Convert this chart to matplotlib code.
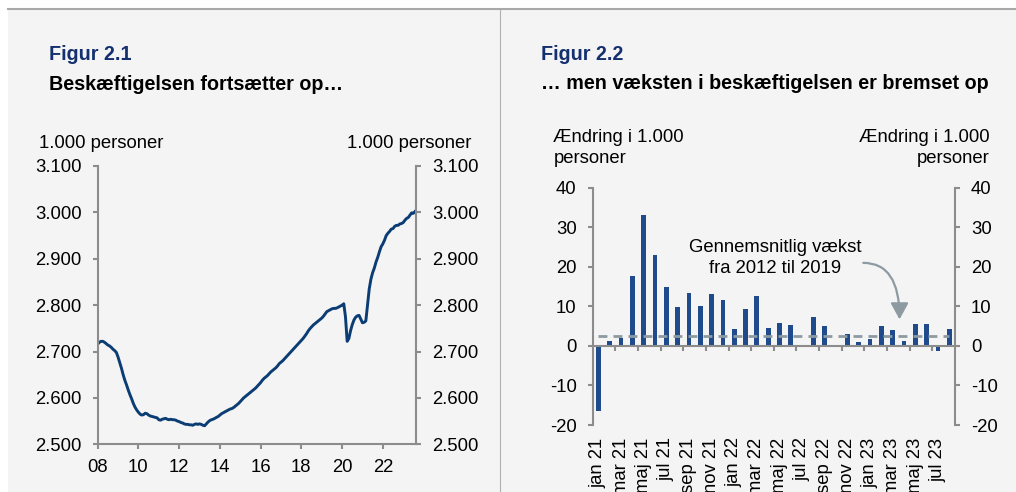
import numpy as np
import matplotlib
matplotlib.use("Agg")
import matplotlib.pyplot as plt
from matplotlib.patches import Rectangle
from matplotlib.lines import Line2D

plt.rcParams['font.family'] = ['Liberation Sans', 'DejaVu Sans']

# ---------------- data ----------------
# Figure 2.1: employment, 1.000 persons, monthly Jan 2008 - Aug 2023
emp_2008 = [2716, 2720, 2722, 2722, 2720, 2717, 2714, 2712, 2709, 2705, 2702, 2698]
emp_2009 = [2688, 2676, 2664, 2650, 2638, 2628, 2617, 2607, 2598, 2588, 2580, 2574]
emp_2010 = [2569, 2565, 2563, 2564, 2567, 2566, 2563, 2561, 2560, 2559, 2558, 2557]
emp_2011 = [2553, 2552, 2554, 2555, 2556, 2554, 2553, 2554, 2553, 2553, 2552, 2550]
emp_2012 = [2549, 2547, 2546, 2544, 2543, 2543, 2542, 2542, 2541, 2543, 2544, 2543]
emp_2013 = [2544, 2543, 2541, 2540, 2544, 2548, 2551, 2553, 2554, 2556, 2558, 2560]
emp_2014 = [2563, 2566, 2568, 2570, 2572, 2574, 2576, 2577, 2579, 2582, 2585, 2588]
emp_2015 = [2592, 2596, 2600, 2603, 2606, 2609, 2612, 2615, 2618, 2621, 2625, 2629]
emp_2016 = [2633, 2638, 2642, 2645, 2648, 2652, 2656, 2659, 2662, 2665, 2669, 2674]
emp_2017 = [2677, 2680, 2684, 2688, 2692, 2696, 2700, 2704, 2708, 2712, 2716, 2720]
emp_2018 = [2724, 2728, 2733, 2738, 2744, 2749, 2753, 2757, 2760, 2763, 2766, 2769]
emp_2019 = [2772, 2776, 2781, 2786, 2788, 2790, 2792, 2793, 2793, 2794, 2796, 2798]
emp_2020 = [2800, 2803, 2775, 2722, 2728, 2745, 2758, 2768, 2774, 2777, 2778, 2770]
emp_2021 = [2762, 2763, 2766, 2800, 2835, 2856, 2870, 2880, 2893, 2903, 2915, 2926]
emp_2022 = [2932, 2940, 2950, 2955, 2959, 2964, 2965, 2970, 2972, 2972, 2975, 2976]
emp_2023 = [2978, 2983, 2987, 2989, 2994, 2999, 2998, 3002]
emp_start_year = 2008

left_yticks = [2500, 2600, 2700, 2800, 2900, 3000, 3100]
left_ylabels = ["2.500", "2.600", "2.700", "2.800", "2.900", "3.000", "3.100"]
left_xticks = [2008, 2010, 2012, 2014, 2016, 2018, 2020, 2022]
left_xlabels = ["08", "10", "12", "14", "16", "18", "20", "22"]

# Figure 2.2: monthly change in employment, 1.000 persons, Jan 2021 - Aug 2023
months = ["jan 21", "feb 21", "mar 21", "apr 21", "maj 21", "jun 21", "jul 21", "aug 21",
          "sep 21", "okt 21", "nov 21", "dec 21", "jan 22", "feb 22", "mar 22", "apr 22",
          "maj 22", "jun 22", "jul 22", "aug 22", "sep 22", "okt 22", "nov 22", "dec 22",
          "jan 23", "feb 23", "mar 23", "apr 23", "maj 23", "jun 23", "jul 23", "aug 23"]
growth = [-16.4, 1.2, 1.9, 17.8, 33.2, 23.0, 14.9, 9.9, 13.4, 10.0, 13.2, 11.5,
          4.2, 9.4, 12.6, 4.6, 5.7, 5.4, 0.0, 7.2, 5.1, 0.3, 3.1, 1.0,
          1.7, 5.0, 4.1, 1.2, 5.5, 5.6, -1.3, 4.2]
avg_growth_2012_2019 = 2.5
right_yticks = [-20, -10, 0, 10, 20, 30, 40]

# ---------------- style ----------------
W, H = 1016, 492
BG = "#f4f4f4"
NAVY = "#14306e"
LINE = "#0b3c73"
BAR = "#1f4a8c"
GREY = "#8c8c8c"
DASH = "#8e9aa2"
FS = 13.3
TFS = 14.2

fig = plt.figure(figsize=(W / 100, H / 100), dpi=100, facecolor="white")

def fx(px):
    return px / W

def fy(py):
    return 1 - py / H

# panel background, top rule and divider
fig.patches.append(Rectangle((fx(8), 0), fx(W - 8), fy(10), transform=fig.transFigure,
                             facecolor=BG, edgecolor="none", zorder=-10))
fig.lines.append(Line2D([fx(8), 1], [fy(9), fy(9)], transform=fig.transFigure,
                        color="#a8a8a8", lw=1.5))
fig.lines.append(Line2D([fx(500), fx(500)], [0, fy(10)], transform=fig.transFigure,
                        color="#b0b0b0", lw=0.8))

# ---------------- left chart ----------------
emp = emp_2008 + emp_2009 + emp_2010 + emp_2011 + emp_2012 + emp_2013 + emp_2014 + \
      emp_2015 + emp_2016 + emp_2017 + emp_2018 + emp_2019 + emp_2020 + emp_2021 + \
      emp_2022 + emp_2023
t = emp_start_year + np.arange(len(emp)) / 12.0

ax1 = fig.add_axes([fx(97.7), fy(444.3), fx(416 - 97.7), (444.3 - 166) / H])
ax1.set_facecolor("none")
ax1.plot(t, emp, color=LINE, lw=2.1, solid_joinstyle="round")
ax1.set_xlim(2008, 2023.63)
ax1.set_ylim(2500, 3100)
ax1.set_yticks(left_yticks)
ax1.set_yticklabels(left_ylabels)
ax1.set_xticks(left_xticks)
ax1.set_xticklabels(left_xlabels)
ax1.spines["top"].set_visible(False)
for s in ["left", "right", "bottom"]:
    ax1.spines[s].set_color(GREY)
    ax1.spines[s].set_linewidth(1.5)
ax1.tick_params(axis="y", which="both", left=True, right=True, labelleft=True,
                labelright=True, direction="out", length=3.6, width=1.5,
                color=GREY, labelsize=FS, pad=8)
ax1.tick_params(axis="x", direction="out", length=3.6, width=1.5, color=GREY,
                labelsize=FS, pad=7)

# ---------------- right chart ----------------
x = np.arange(len(growth))
ax2 = fig.add_axes([fx(592.7), fy(425), fx(955 - 592.7), (425 - 187.7) / H])
ax2.set_facecolor("none")
ax2.bar(x, growth, width=0.42, color=BAR, zorder=3)
ax2.hlines(avg_growth_2012_2019, x[0], x[-1], colors=DASH, linestyles=(0, (3.2, 2.2)),
           lw=2.0, zorder=4)
ax2.set_xlim(-0.5, len(growth) - 0.5)
ax2.set_ylim(-20, 40)
ax2.set_yticks(right_yticks)
ax2.set_yticklabels([str(v) for v in right_yticks])
ax2.spines["top"].set_visible(False)
ax2.spines["bottom"].set_position(("data", 0))
for s in ["left", "right", "bottom"]:
    ax2.spines[s].set_color(GREY)
    ax2.spines[s].set_linewidth(1.5)
ax2.spines["bottom"].set_zorder(5)
ax2.tick_params(axis="y", left=True, right=True, labelleft=True, labelright=True,
                direction="out", length=3.6, width=1.5, color=GREY, labelsize=FS, pad=8)
ax2.set_xticks(np.arange(1.5, len(growth) - 1, 2))
ax2.tick_params(axis="x", direction="out", length=3.6, width=1.5, color=GREY,
                labelbottom=False)

sec = ax2.secondary_xaxis("bottom")
sec.set_xticks(x[::2])
sec.set_xticklabels(months[::2], rotation=90, ha="center", va="top")
sec.tick_params(axis="x", length=0, labelsize=FS, pad=9)
sec.spines["bottom"].set_visible(False)

ax2.text(15.6, 23.8, "Gennemsnitlig vækst", ha="center", va="baseline", fontsize=FS)
ax2.text(15.6, 18.4, "fra 2012 til 2019", ha="center", va="baseline", fontsize=FS)
ax2.annotate("", xy=(26.6, 6.7), xytext=(23.4, 21.0),
             arrowprops=dict(arrowstyle="-|>,head_length=0.55,head_width=0.3",
                             connectionstyle="angle3,angleA=0,angleB=-90",
                             color=DASH, lw=1.6, mutation_scale=18,
                             shrinkA=0, shrinkB=0), zorder=6)

# ---------------- titles and unit labels ----------------
fig.text(fx(49), fy(60), "Figur 2.1", color=NAVY, fontsize=TFS, fontweight="bold",
         va="baseline", ha="left")
fig.text(fx(49), fy(90), "Beskæftigelsen fortsætter op…", color="black", fontsize=TFS,
         fontweight="bold", va="baseline", ha="left")
fig.text(fx(540.7), fy(60), "Figur 2.2", color=NAVY, fontsize=TFS, fontweight="bold",
         va="baseline", ha="left")
fig.text(fx(540.7), fy(89), "… men væksten i beskæftigelsen er bremset op", color="black",
         fontsize=TFS, fontweight="bold", va="baseline", ha="left")

fig.text(fx(39.3), fy(148), "1.000 personer", fontsize=FS, va="baseline", ha="left")
fig.text(fx(471.7), fy(148), "1.000 personer", fontsize=FS, va="baseline", ha="right")

fig.text(fx(553.3), fy(141.7), "Ændring i 1.000", fontsize=FS, va="baseline", ha="left")
fig.text(fx(553.3), fy(163), "personer", fontsize=FS, va="baseline", ha="left")
fig.text(fx(990), fy(141.7), "Ændring i 1.000", fontsize=FS, va="baseline", ha="right")
fig.text(fx(990), fy(163), "personer", fontsize=FS, va="baseline", ha="right")

fig.savefig("out.png", dpi=100, facecolor="white")
